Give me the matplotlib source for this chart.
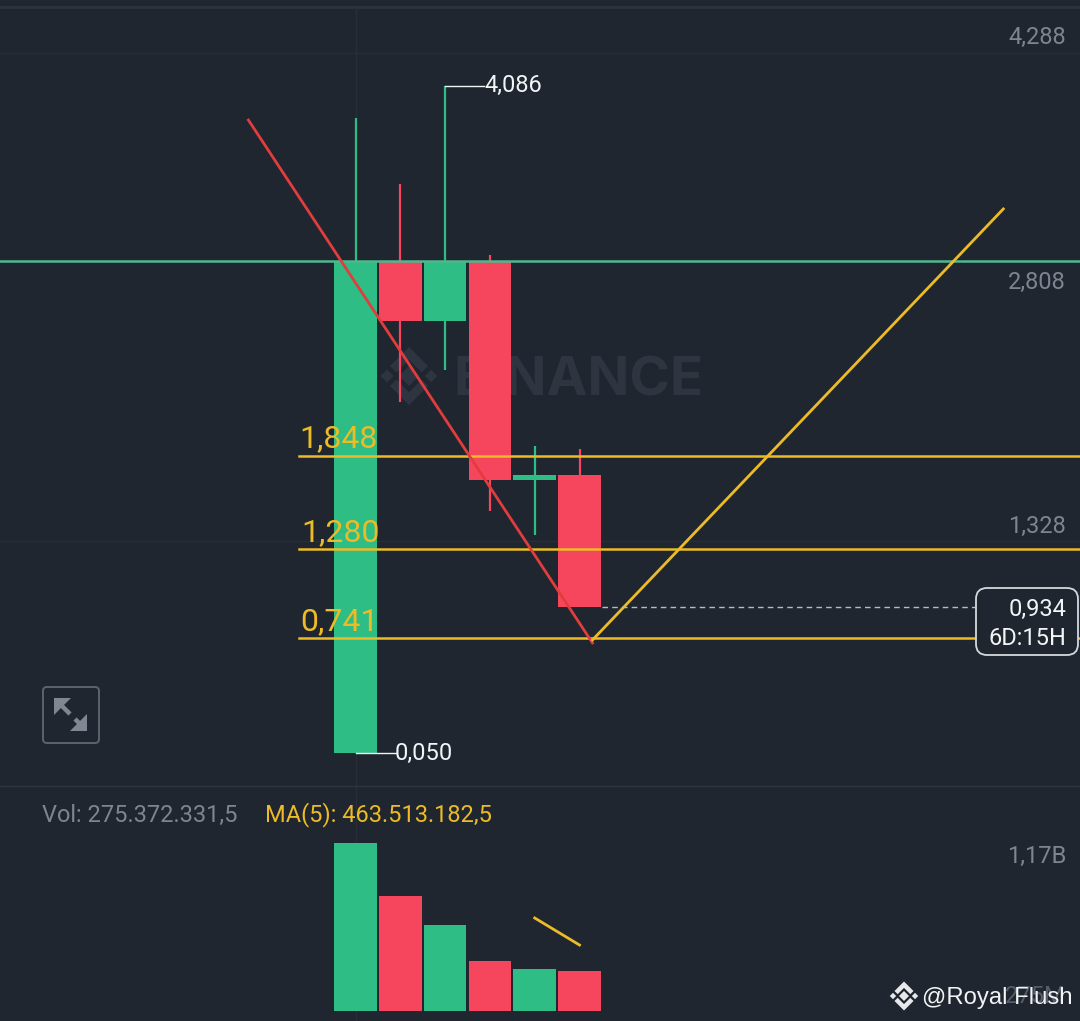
import matplotlib
matplotlib.use("Agg")
import matplotlib.pyplot as plt
from matplotlib.patches import FancyBboxPatch, Polygon

# ---------- data ----------
opens = [0.050, 3.026, 2.663, 3.020, 1.703, 1.730]
closes = [3.026, 2.663, 3.026, 1.700, 1.730, 0.934]
highs = [3.892, 3.492, 4.086, 3.062, 1.906, 1.888]
lows = [0.050, 2.172, 2.366, 1.513, 1.367, 0.934]
volumes_m = [1156, 791, 592, 344, 289, 275.37]
price_ticks = [4.288, 1.328]
price_tick_labels = ["4,288", "2,808", "1,328"]
fib_levels = [1.848, 1.280, 0.741]
fib_labels = ["1,848", "1,280", "0,741"]
resistance = 3.026
last_price = 0.934
red_line_x = [-2.39, 5.29]
red_line_y = [3.879, 0.714]
v_line_x = [5.29, 14.46]
v_line_y = [0.732, 3.341]
vol_line_x = [4, 5]
vol_line_y = [640, 454]

# ---------- style ----------
BG = "#1f2630"
GRID = "#272e38"
GREEN = "#2ebd85"
RED = "#f6465d"
GOLD = "#ecbb25"
GREY = "#7e8590"
WHITE = "#f2f4f6"
plt.rcParams["font.family"] = ["Roboto", "DejaVu Sans"]

W, H = 1080, 1021
X0 = 355.5
fig = plt.figure(figsize=(W / 100, H / 100), dpi=100, facecolor=BG)

def make_axes(top, bottom):
    ax = fig.add_axes([0, 1 - bottom / H, 1, (bottom - top) / H])
    ax.set_facecolor(BG)
    ax.axis("off")
    ax.set_xlim(-X0 / 44.8, (W - X0) / 44.8)
    return ax

# price axes: 165.2 px per price unit, 2.808 sits at y=297 px
def px_price(y):
    return 2.808 - (y - 297) / 165.2

ax = make_axes(8, 786)
ax.set_ylim(px_price(786), px_price(8))

# volume axes: zero at y=1011 px, 6.88 M per px
vax = make_axes(786, 1021)
vax.set_ylim(-10 * 6.88, 225 * 6.88)

# grid
for t in price_ticks:
    ax.axhline(t, color=GRID, lw=1, zorder=1)
ax.axvline(0, color=GRID, lw=1, zorder=1)
vax.axvline(0, color=GRID, lw=1, zorder=1)

# overlay in pixel coordinates for frame items, icons and watermark
ov = fig.add_axes([0, 0, 1, 1], zorder=5)
ov.set_xlim(0, W)
ov.set_ylim(H, 0)
ov.axis("off")
ov.patch.set_alpha(0)

under = fig.add_axes([0, 0, 1, 1], zorder=0.5)
under.set_xlim(0, W)
under.set_ylim(H, 0)
under.axis("off")
under.patch.set_alpha(0)
ax.patch.set_alpha(0)
ax.set_zorder(1)

# separators
under.plot([0, W], [7, 7], color="#2c333d", lw=2)
under.plot([0, W], [786, 786], color="#2e353f", lw=1)

# watermark
WM = "#2e3540"
under.text(453, 381, "BINANCE", color=WM, fontsize=39.5, fontweight="bold",
           family="Inter", va="center", ha="left")
def diamond(a, cx, cy, r, color, z=2):
    a.add_patch(Polygon([(cx, cy - r), (cx + r, cy), (cx, cy + r), (cx - r, cy)],
                        closed=True, color=color, lw=0, zorder=z))
def chevron(a, cx, cy, r, t, up, color, z=2):
    s = -1 if up else 1
    a.add_patch(Polygon([(cx - r, cy), (cx, cy + s * r), (cx + r, cy),
                         (cx + r - t, cy - s * t), (cx, cy + s * (r - 2 * t)), (cx - r + t, cy - s * t)],
                        closed=True, color=color, lw=0, zorder=z))
def logo(a, cx, cy, k, color):
    diamond(a, cx, cy, 5 * k, color)
    diamond(a, cx - 11 * k, cy, 3.2 * k, color)
    diamond(a, cx + 11 * k, cy, 3.2 * k, color)
    chevron(a, cx, cy - 5 * k, 9.5 * k, 3.2 * k, True, color)
    chevron(a, cx, cy + 5 * k, 9.5 * k, 3.2 * k, False, color)
logo(under, 409, 376, 2.0, WM)

# candles
for i, (o, c, h, l) in enumerate(zip(opens, closes, highs, lows)):
    col = GREEN if c >= o else RED
    ax.plot([i, i], [l, h], color=col, lw=1.6, zorder=3, solid_capstyle="butt")
    ax.bar(i, abs(c - o), bottom=min(o, c), width=0.95, color=col, zorder=3, linewidth=0)

# drawings
ax.axhline(resistance, color="#4fb88e", lw=1.8, zorder=4)
for lv, lab, xt in zip(fib_levels, fib_labels, [299, 301, 300]):
    ax.plot([(299 - X0) / 44.8, (W - X0) / 44.8], [lv, lv], color=GOLD, lw=1.8, zorder=4)
    ov.text(xt, 297 + (2.808 - lv) * 165.2 - 2, lab, color=GOLD, fontsize=23, va="bottom", ha="left")
ax.plot(red_line_x, red_line_y, color="#e23d3d", lw=2, zorder=4)
ax.plot(v_line_x, v_line_y, color=GOLD, lw=2, zorder=4)

# high / low annotations
ax.plot([0, 40 / 44.8], [lows[0], lows[0]], color=WHITE, lw=1, zorder=4)
ax.plot([2, 2 + 39 / 44.8], [highs[2], highs[2]], color=WHITE, lw=1, zorder=4)
ov.text(395, 753, "0,050", color=WHITE, fontsize=17, va="center", ha="left")
ov.text(484, 85, "4,086", color=WHITE, fontsize=17, va="center", ha="left")

# last price dashes and tag
ax.plot([5.5, (975 - X0) / 44.8], [last_price, last_price], color="#b8bcc2", lw=1,
        ls=(0, (4, 3)), zorder=4)
ov.add_patch(FancyBboxPatch((976, 588), 102, 67, boxstyle="round,pad=0,rounding_size=11",
                            fc=BG, ec="#d5d8dc", lw=1.3, zorder=6))
ov.text(1066, 609, "0,934", color=WHITE, fontsize=17, va="center", ha="right", zorder=7)
ov.text(1066, 638, "6D:15H", color=WHITE, fontsize=17, va="center", ha="right", zorder=7)

# price axis labels
for lab, y in zip(price_tick_labels, [37, 282, 526]):
    ov.text(1066, y, lab, color=GREY, fontsize=17, va="center", ha="right")

# expand icon
ov.add_patch(FancyBboxPatch((43, 687), 56, 56, boxstyle="round,pad=0,rounding_size=4",
                            fc="none", ec="#5c636d", lw=1.4))
ICON = "#7f8793"
ov.plot([59, 70], [703, 714], color=ICON, lw=3.2, solid_capstyle="butt")
ov.plot([75, 85], [719, 729], color=ICON, lw=3.2, solid_capstyle="butt")
ov.add_patch(Polygon([(54, 698), (71, 698), (54, 715)], closed=True, color=ICON, lw=0))
ov.add_patch(Polygon([(87, 731), (70, 731), (87, 714)], closed=True, color=ICON, lw=0))

# volume
for i, (o, c, v) in enumerate(zip(opens, closes, volumes_m)):
    vax.bar(i, v, width=0.95, color=GREEN if c >= o else RED, linewidth=0, zorder=3)
vax.plot(vol_line_x, vol_line_y, color=GOLD, lw=2, zorder=4)

ov.text(42, 815, "Vol: 275.372.331,5", color=GREY, fontsize=17, va="center", ha="left")
ov.text(265, 815, "MA(5): 463.513.182,5", color=GOLD, fontsize=17, va="center", ha="left")
ov.text(1066, 856, "1,17B", color=GREY, fontsize=17, va="center", ha="right")
ov.text(1066, 996, "275M", color="#565d68", fontsize=17, va="center", ha="right")

# credit
logo(ov, 904, 996, 1.0, "#e6e8ea")
ov.text(922, 998, "@Royal Flush", color="#f2f3f4", fontsize=17.2, family="Liberation Sans",
        va="center", ha="left", zorder=8)

fig.savefig("out.png", dpi=100, facecolor=BG)
